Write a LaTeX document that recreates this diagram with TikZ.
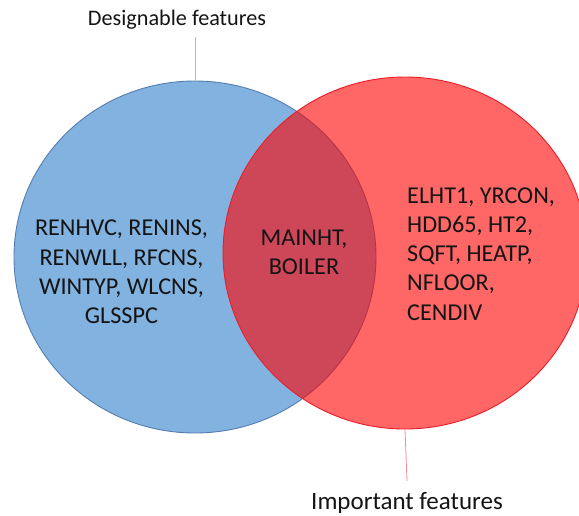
\documentclass[tikz,border=0pt]{standalone}
\usepackage{fontspec}
\setmainfont{Carlito}
\usetikzlibrary{shapes.geometric}
\definecolor{bluefill}{RGB}{130,178,224}
\definecolor{blueline}{RGB}{85,125,175}
\definecolor{redline}{RGB}{235,30,40}
\definecolor{topleader}{RGB}{165,190,215}
\definecolor{botleader}{RGB}{240,140,150}
\definecolor{txt}{RGB}{20,20,20}
\tikzset{
  setshape/.style={ellipse, inner sep=0pt, line width=0.9pt},
  settext/.style={inner sep=0pt, text=txt, font=\fontsize{24.2}{29.2}\selectfont},
  titletext/.style={inner sep=0pt, text=txt},
  leader/.style={line width=0.8pt}
}
\begin{document}
\begin{tikzpicture}[x=1pt,y=-1pt]
\useasboundingbox (0,0) rectangle (579,515);
\clip (0,0) rectangle (579,515);
\node[setshape, draw=blueline, fill=bluefill, minimum width=362pt, minimum height=352pt] (blue) at (195,257) {};
\node[setshape, draw=redline, fill=red, fill opacity=0.6, minimum width=364pt, minimum height=352pt] (red) at (405,253) {};
\node[settext, align=center] (left) at (121.5,272) {RENHVC, RENINS,\\RENWLL, RFCNS,\\WINTYP, WLCNS,\\GLSSPC};
\node[settext, align=center] (mid) at (304,252) {MAINHT,\\BOILER};
\node[settext, align=left, anchor=west] (right) at (407,254) {ELHT1, YRCON,\\HDD65, HT2,\\SQFT, HEATP,\\NFLOOR,\\CENDIV};
\node[titletext, font=\fontsize{22.2}{26}\selectfont] (dtitle) at (177,20) {Designable features};
\node[titletext, font=\fontsize{25}{30}\selectfont] (ititle) at (407,503) {Important features};
\coordinate (dend) at (195,37);
\coordinate (iend) at (407,481);
\draw[leader, draw=topleader] (blue.north) -- (dend);
\draw[leader, draw=botleader] (red.south) -- (iend);
\end{tikzpicture}
\end{document}
